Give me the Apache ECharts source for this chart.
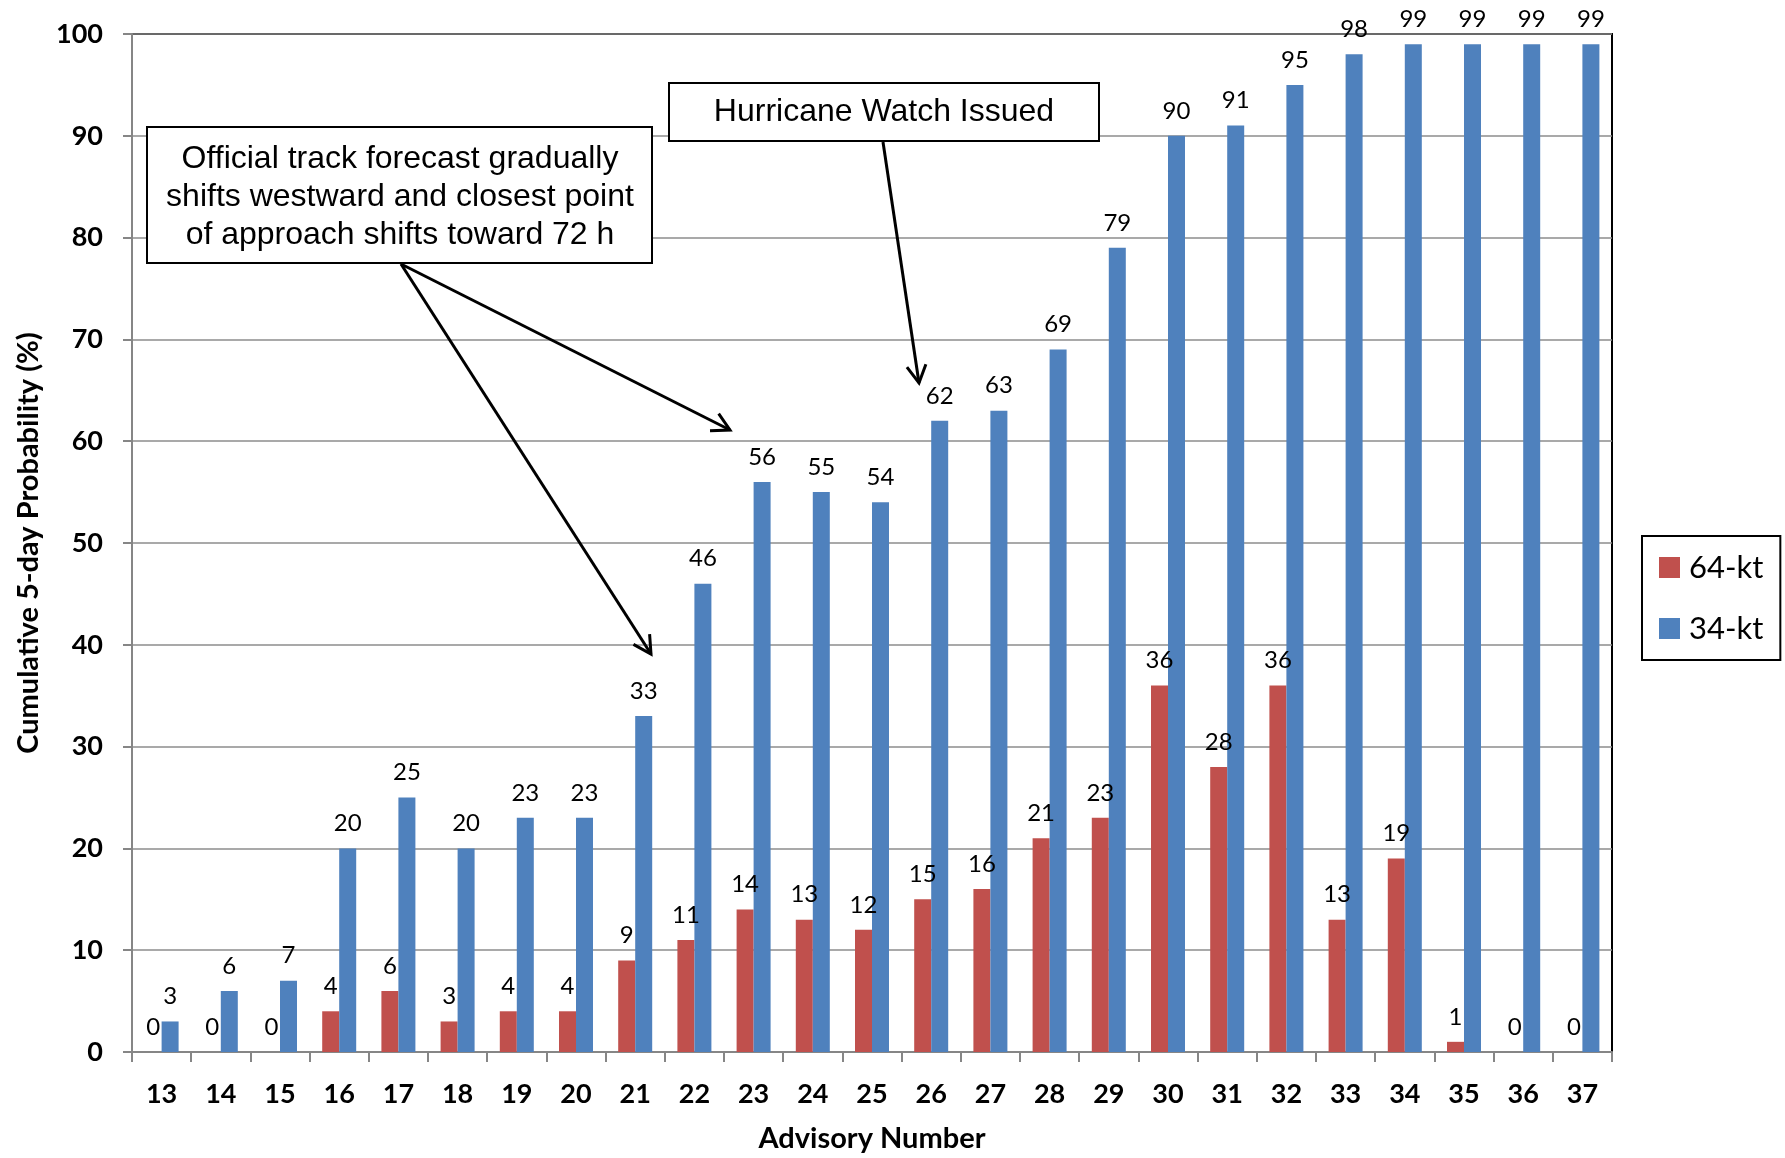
<!DOCTYPE html>
<html><head><meta charset="utf-8">
<script src="https://cdn.jsdelivr.net/npm/echarts@6/dist/echarts.min.js"></script>
<style>html,body{margin:0;padding:0;background:#fff}#c{width:1785px;height:1158px}</style>
</head><body><div id="c"></div>
<script>
const advisories = ['13','14','15','16','17','18','19','20','21','22','23','24','25','26','27','28','29','30','31','32','33','34','35','36','37'];
const kt64 = [0,0,0,4,6,3,4,4,9,11,14,13,12,15,16,21,23,36,28,36,13,19,1,0,0];
const kt34 = [3,6,7,20,25,20,23,23,33,46,56,55,54,62,63,69,79,90,91,95,98,99,99,99,99];
const seriesNames = ['64-kt','34-kt'];
const boxText1 = ['Official track forecast gradually','shifts westward and closest point','of approach shifts toward 72 h'];
const boxText2 = 'Hurricane Watch Issued';

const chart = echarts.init(document.getElementById('c'));
const numFont = 'Lato';

function arrow(x1,y1,x2,y2){
  const a = Math.atan2(y2-y1, x2-x1), L = 20, s = 0.5;
  return [
    {type:'line', z:100, shape:{x1,y1,x2,y2}, style:{stroke:'#000', lineWidth:3}},
    {type:'polyline', z:100, shape:{points:[[x2-L*Math.cos(a-s), y2-L*Math.sin(a-s)],[x2,y2],[x2-L*Math.cos(a+s), y2-L*Math.sin(a+s)]]}, style:{stroke:'#000', lineWidth:3, fill:null}}
  ];
}

const graphics = [
  {type:'rect', z:99, shape:{x:147,y:127,width:505,height:136}, style:{fill:'#fff', stroke:'#000', lineWidth:2}},
  ...boxText1.map((t,i)=>({type:'text', z:100, x:400, y:159+i*38, style:{text:t, fill:'#000', font:'32px "Liberation Sans", Arial, sans-serif', align:'center', verticalAlign:'middle'}})),
  {type:'rect', z:99, shape:{x:669,y:83,width:430,height:58}, style:{fill:'#fff', stroke:'#000', lineWidth:2}},
  {type:'text', z:100, x:884, y:112, style:{text:boxText2, fill:'#000', font:'32px "Liberation Sans", Arial, sans-serif', align:'center', verticalAlign:'middle'}},
  ...arrow(401,264,730,430),
  ...arrow(401,264,651,654),
  ...arrow(883,142,919,383)
];

const labelCfg = {show:true, position:'top', distance:13, color:'#000', fontFamily:numFont, fontSize:24};

chart.setOption({
  animation:false,
  backgroundColor:'#fff',
  grid:{left:132, right:173, top:34, bottom:105, show:true, borderColor:'#000', borderWidth:2, backgroundColor:'transparent'},
  legend:{
    orient:'vertical', left:1642, top:536,
    data:seriesNames, icon:'rect', itemWidth:21, itemHeight:21, itemGap:30,
    padding:[16,17,16,17], borderColor:'#000', borderWidth:2,
    textStyle:{fontFamily:numFont, fontSize:31, color:'#000', padding:[0,0,0,4]}
  },
  xAxis:{
    type:'category', data:advisories,
    name:'Advisory Number', nameLocation:'middle', nameGap:72,
    nameTextStyle:{fontFamily:numFont, fontWeight:'bold', fontSize:29, color:'#000'},
    axisLine:{lineStyle:{color:'#868686', width:2}},
    axisTick:{show:true, length:10, lineStyle:{color:'#868686', width:2}},
    axisLabel:{margin:29, fontFamily:numFont, fontWeight:'bold', fontSize:27, color:'#000'}
  },
  yAxis:{
    type:'value', min:0, max:100, interval:10,
    name:'Cumulative 5-day Probability (%)', nameLocation:'middle', nameGap:89, nameRotate:90,
    nameTextStyle:{fontFamily:numFont, fontWeight:'bold', fontSize:29, color:'#000'},
    axisLine:{show:true, lineStyle:{color:'#868686', width:2}},
    axisTick:{show:true, length:9, lineStyle:{color:'#868686', width:2}},
    axisLabel:{margin:29, fontFamily:numFont, fontWeight:'bold', fontSize:27, color:'#000'},
    splitLine:{lineStyle:{color:'#8c8c8c', width:1.5}}
  },
  series:[
    {name:seriesNames[0], type:'bar', data:kt64, barWidth:17, barGap:'0%',
     itemStyle:{color:'#C0504D'}, label:labelCfg},
    {name:seriesNames[1], type:'bar', data:kt34, barWidth:17, barGap:'0%',
     itemStyle:{color:'#4F81BD'}, label:labelCfg}
  ],
  graphic:graphics
});
</script></body></html>
